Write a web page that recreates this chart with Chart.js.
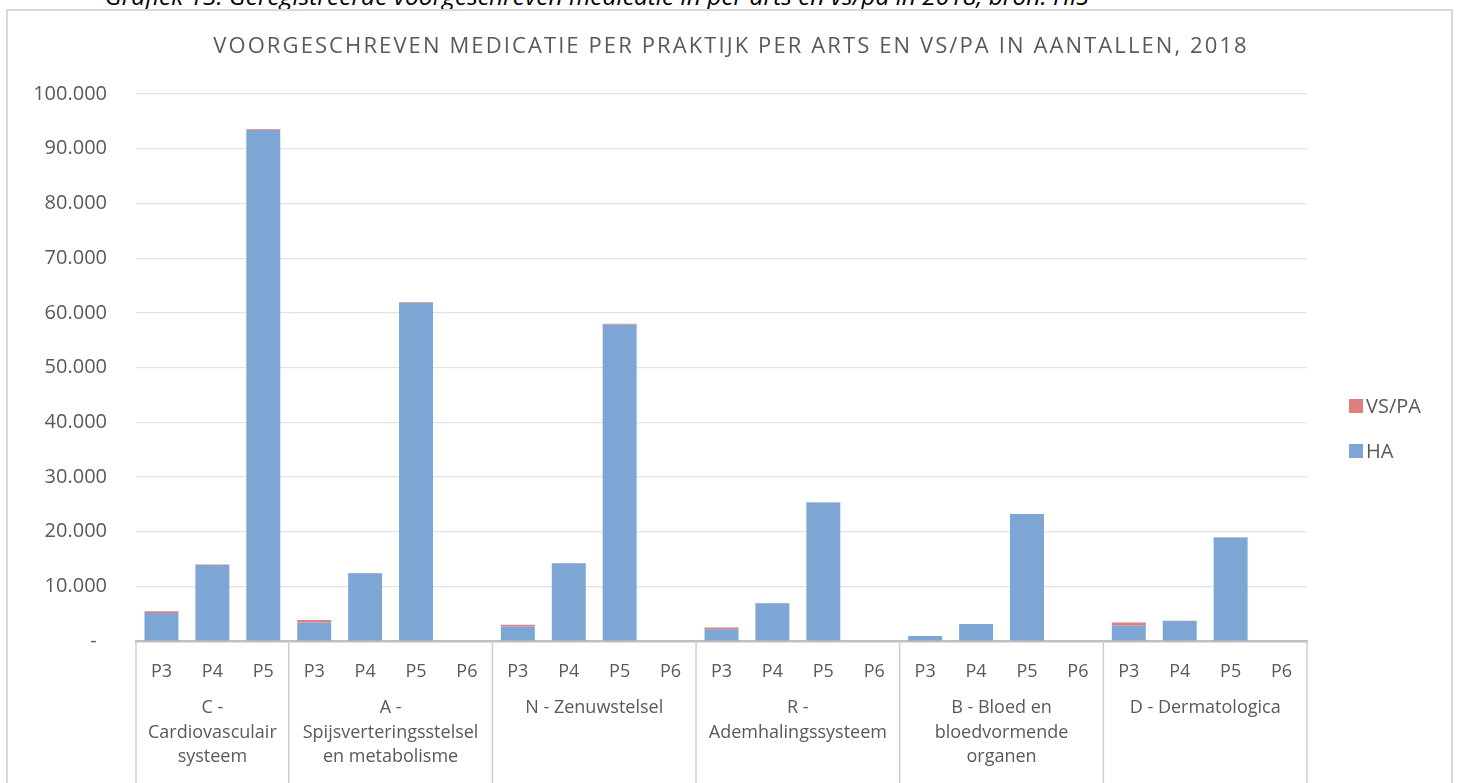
<!DOCTYPE html>
<html>
<head>
<meta charset="utf-8">
<script src="https://cdn.jsdelivr.net/npm/chart.js@4.4.1/dist/chart.umd.min.js"></script>
<style>
  body { margin: 0; background: #fff; overflow: hidden; }
  #bijschrift {
    position: absolute; left: 105px; top: -18px; white-space: nowrap;
    font: italic 24.5px "Open Sans", sans-serif; line-height: 28px; color: #000;
  }
  #kader {
    position: absolute; left: 6px; top: 9px; width: 1447px; height: 800px;
    border: 2px solid #d9d9d9; box-sizing: border-box;
  }
  #wrap { position: absolute; left: 0; top: 0; width: 1459px; height: 783px; }
</style>
</head>
<body>
<div id="bijschrift">Grafiek 13: Geregistreerde voorgeschreven medicatie in per arts en vs/pa in 2018, bron: HIS</div>
<div id="kader"></div>
<div id="wrap"><canvas id="grafiek"></canvas></div>
<script>
const titel = "VOORGESCHREVEN MEDICATIE PER PRAKTIJK PER ARTS EN VS/PA IN AANTALLEN, 2018";

// groepen op de categorie-as
const groepen = [
    ["C -", "Cardiovasculair", "systeem"],
    ["A -", "Spijsverteringsstelsel", "en metabolisme"],
    ["N - Zenuwstelsel"],
    ["R -", "Ademhalingssysteem"],
    ["B - Bloed en", "bloedvormende", "organen"],
    ["D - Dermatologica"]
];
const praktijkenPerGroep = [
    ["P3", "P4", "P5"],
    ["P3", "P4", "P5", "P6"],
    ["P3", "P4", "P5", "P6"],
    ["P3", "P4", "P5", "P6"],
    ["P3", "P4", "P5", "P6"],
    ["P3", "P4", "P5", "P6"]
];

const haWaarden = [
    5100, 13900, 93400,
    3400, 12400, 61800, 0,
    2650, 14200, 57800, 0,
    2150, 6900, 25300, 0,
    900, 3100, 23200, 0,
    2800, 3650, 18900, 0
];
const vspaWaarden = [
    350, 100, 150,
    450, 50, 150, 0,
    300, 50, 200, 0,
    300, 30, 60, 0,
    30, 20, 40, 0,
    600, 30, 50, 0
];

const yTicks = [0, 10000, 20000, 30000, 40000, 50000, 60000, 70000, 80000, 90000, 100000];

const labels = praktijkenPerGroep.flat();
const tekstKleur = "#595959";
const font = '"Open Sans", sans-serif';

function formatGetal(v) {
    if (v === 0) return "-  ";
    return String(v).replace(/\B(?=(\d{3})+(?!\d))/g, ".");
}

const extraTekening = {
    id: "extraTekening",
    afterDraw(chart) {
        const ctx = chart.ctx;
        const x = chart.scales.x;
        const area = chart.chartArea;
        const breedte = (x.getPixelForValue(1) - x.getPixelForValue(0));

        ctx.save();

        // titel
        ctx.fillStyle = tekstKleur;
        ctx.font = "22px " + font;
        ctx.letterSpacing = "2.1px";
        ctx.textAlign = "center";
        ctx.textBaseline = "middle";
        ctx.fillText(titel, 731, 47);
        ctx.letterSpacing = "0px";

        // scheidingslijnen en groepnamen
        ctx.strokeStyle = "#cfcfcf";
        ctx.lineWidth = 1.5;
        let start = 0;
        groepen.forEach((regels, g) => {
            const n = praktijkenPerGroep[g].length;
            const links = x.getPixelForValue(start) - breedte / 2;
            const rechts = x.getPixelForValue(start + n - 1) + breedte / 2;
            ctx.beginPath();
            ctx.moveTo(links, area.bottom);
            ctx.lineTo(links, chart.height);
            ctx.stroke();
            if (g === groepen.length - 1) {
                ctx.beginPath();
                ctx.moveTo(rechts, area.bottom);
                ctx.lineTo(rechts, chart.height);
                ctx.stroke();
            }
            ctx.font = "18px " + font;
            ctx.fillStyle = tekstKleur;
            regels.forEach((r, i) => {
                ctx.fillText(r, (links + rechts) / 2, 708 + i * 24.5);
            });
            start += n;
        });

        // legenda
        const items = [
            { tekst: "VS/PA", kleur: chart.data.datasets[1].backgroundColor, y: 406 },
            { tekst: "HA", kleur: chart.data.datasets[0].backgroundColor, y: 451 }
        ];
        ctx.textAlign = "left";
        ctx.font = "20px " + font;
        items.forEach(it => {
            ctx.fillStyle = it.kleur;
            ctx.fillRect(1349, it.y - 7, 14, 14);
            ctx.fillStyle = tekstKleur;
            ctx.fillText(it.tekst, 1366, it.y + 1);
        });

        ctx.restore();
    }
};

new Chart(document.getElementById("grafiek"), {
    type: "bar",
    data: {
        labels: labels,
        datasets: [
            { label: "HA", data: haWaarden, backgroundColor: "#7ea6d4" },
            { label: "VS/PA", data: vspaWaarden, backgroundColor: "#e07f80" }
        ]
    },
    options: {
        responsive: true,
        maintainAspectRatio: false,
        animation: false,
        layout: { padding: { top: 94, right: 152, left: 0, bottom: 0 } },
        datasets: { bar: { categoryPercentage: 1, barPercentage: 0.667 } },
        plugins: {
            legend: { display: false },
            title: { display: false },
            tooltip: { enabled: false }
        },
        scales: {
            x: {
                stacked: true,
                grid: { display: false },
                border: { display: true, color: "#bfbfbf", width: 2.5 },
                ticks: {
                    color: tekstKleur,
                    font: { family: font, size: 18 },
                    padding: 12,
                    maxRotation: 0,
                    autoSkip: false
                },
                afterFit(scale) { scale.height = 142; }
            },
            y: {
                stacked: true,
                min: 0,
                max: 100000,
                afterBuildTicks(scale) { scale.ticks = yTicks.map(v => ({ value: v })); },
                grid: { color: "#e3e3e3", lineWidth: 1.2, drawTicks: false },
                border: { display: false },
                ticks: {
                    color: tekstKleur,
                    font: { family: font, size: 20 },
                    padding: 29,
                    callback: v => formatGetal(v)
                },
                afterFit(scale) { scale.width = 136; }
            }
        }
    },
    plugins: [extraTekening]
});
</script>
</body>
</html>
